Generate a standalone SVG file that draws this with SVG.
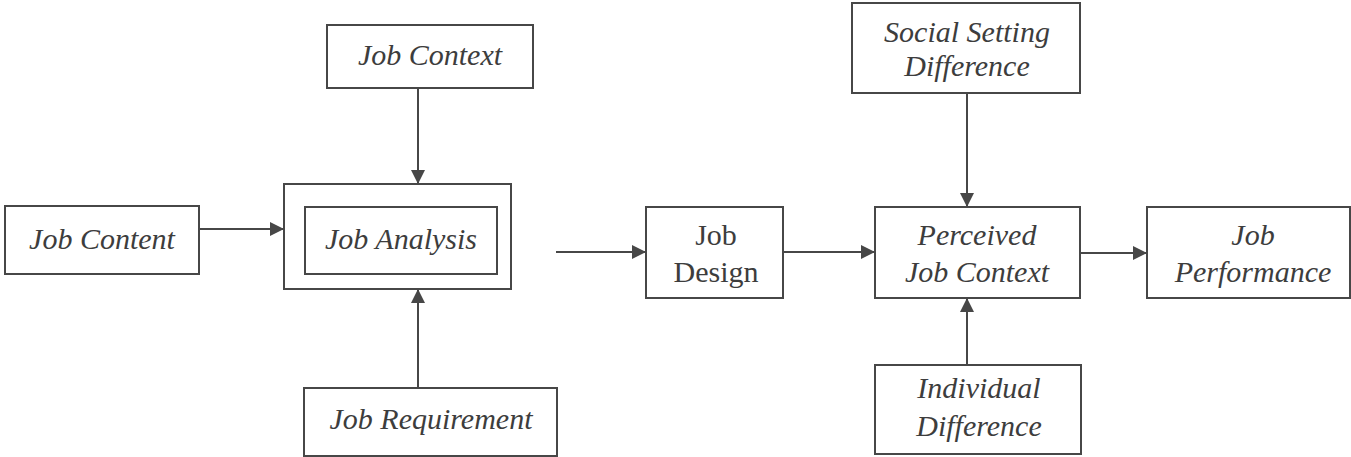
<svg xmlns="http://www.w3.org/2000/svg" width="1351" height="457" viewBox="0 0 1351 457">
  <style>
    .box { fill: #ffffff; stroke: #474747; stroke-width: 2; }
    .lbl { font-family: 'Liberation Serif', 'DejaVu Serif', serif; font-size: 30px; fill: #3d3d3d; text-anchor: middle; }
    .it { font-style: italic; }
    .edge { stroke: #474747; stroke-width: 2; fill: none; marker-end: url(#arrow); }
  </style>
  <defs>
    <marker id="arrow" viewBox="0 0 10 10" refX="10" refY="5" markerWidth="14" markerHeight="14" markerUnits="userSpaceOnUse" orient="auto">
      <path d="M0,0 L10,5 L0,10 z" fill="#474747"/>
    </marker>
  </defs>
  <rect width="1351" height="457" fill="#ffffff"/>

  <g id="job-content">
    <rect class="box" x="5" y="206" width="194" height="68"/>
    <text class="lbl it" x="102" y="249">Job Content</text>
  </g>

  <g id="job-analysis">
    <rect class="box" x="284" y="184" width="227" height="105"/>
    <rect class="box" x="305" y="207" width="192" height="67"/>
    <text class="lbl it" x="401" y="249">Job Analysis</text>
  </g>

  <g id="job-context">
    <rect class="box" x="327" y="25" width="206" height="63"/>
    <text class="lbl it" x="430" y="65">Job Context</text>
  </g>

  <g id="job-requirement">
    <rect class="box" x="304" y="388" width="253" height="68"/>
    <text class="lbl it" x="431" y="429">Job Requirement</text>
  </g>

  <g id="job-design">
    <rect class="box" x="646" y="207" width="137" height="91"/>
    <text class="lbl" x="716" y="245">Job</text>
    <text class="lbl" x="716" y="282">Design</text>
  </g>

  <g id="social-setting">
    <rect class="box" x="852" y="3" width="228" height="90"/>
    <text class="lbl it" x="967" y="42">Social Setting</text>
    <text class="lbl it" x="967" y="76">Difference</text>
  </g>

  <g id="perceived-job-context">
    <rect class="box" x="875" y="207" width="205" height="91"/>
    <text class="lbl it" x="977" y="245">Perceived</text>
    <text class="lbl it" x="977" y="282">Job Context</text>
  </g>

  <g id="individual-difference">
    <rect class="box" x="875" y="365" width="206" height="89"/>
    <text class="lbl it" x="979" y="398">Individual</text>
    <text class="lbl it" x="979" y="436">Difference</text>
  </g>

  <g id="job-performance">
    <rect class="box" x="1147" y="207" width="203" height="91"/>
    <text class="lbl it" x="1253" y="245">Job</text>
    <text class="lbl it" x="1253" y="282">Performance</text>
  </g>

  <g id="connectors">
    <line class="edge" x1="199" y1="229" x2="284" y2="229"/>
    <line class="edge" x1="418" y1="88" x2="418" y2="184"/>
    <line class="edge" x1="418" y1="388" x2="418" y2="289"/>
    <line class="edge" x1="556" y1="252" x2="646" y2="252"/>
    <line class="edge" x1="783" y1="252" x2="875" y2="252"/>
    <line class="edge" x1="967" y1="93" x2="967" y2="207"/>
    <line class="edge" x1="967" y1="365" x2="967" y2="298"/>
    <line class="edge" x1="1080" y1="253" x2="1147" y2="253"/>
  </g>
</svg>
